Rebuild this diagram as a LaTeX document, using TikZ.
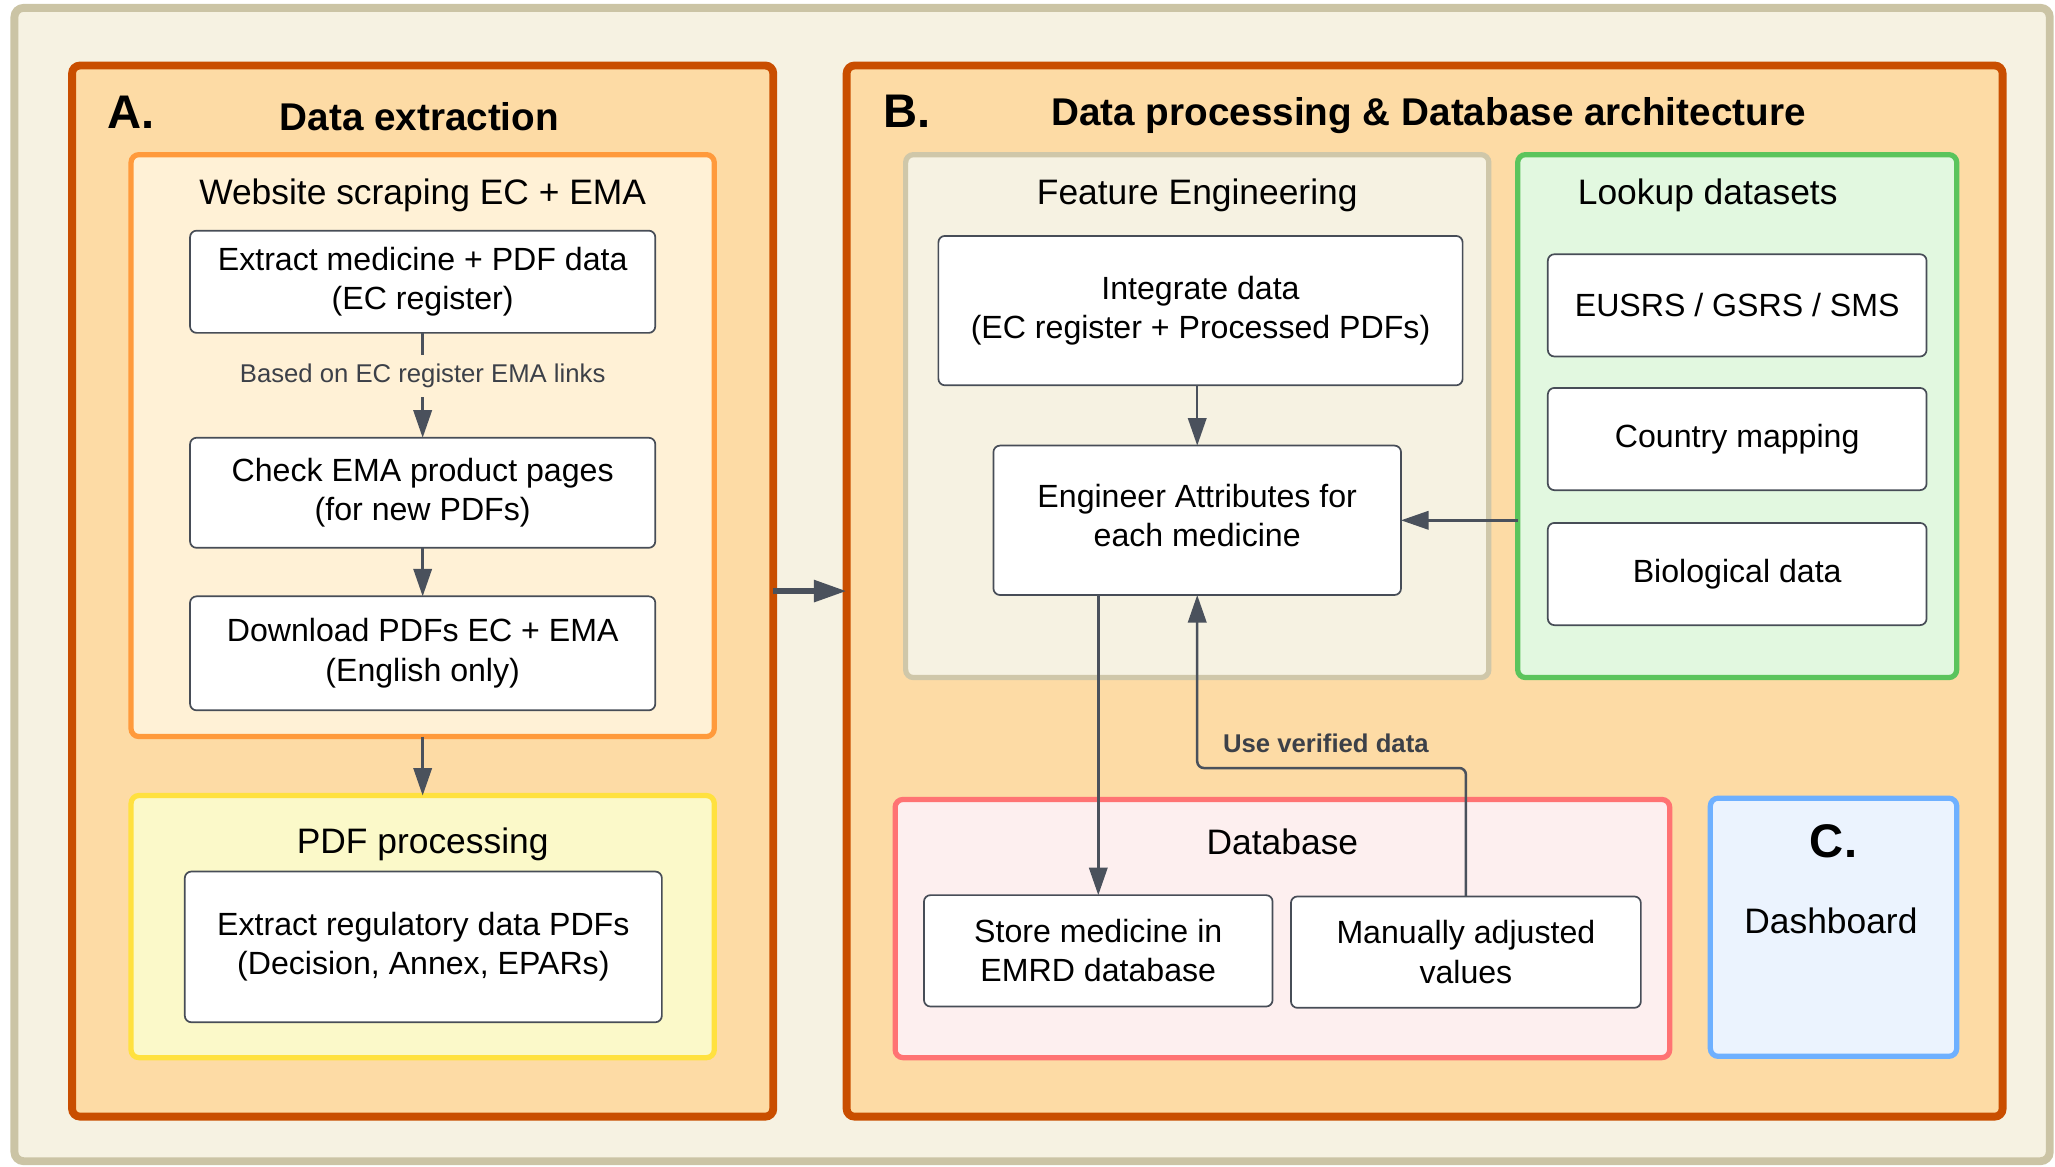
\documentclass[tikz,border=0pt]{standalone}
\usepackage{fontspec}
\setmainfont{Liberation Sans}
\usetikzlibrary{arrows.meta}
\definecolor{outerline}{HTML}{CBC4A5}
\definecolor{outerfill}{HTML}{F6F2E2}
\definecolor{partline}{HTML}{C94E00}
\definecolor{partfill}{HTML}{FDDBA5}
\definecolor{webline}{HTML}{FF9A3C}
\definecolor{webfill}{HTML}{FFF1D6}
\definecolor{pdfline}{HTML}{FFE13F}
\definecolor{pdffill}{HTML}{FBF9C9}
\definecolor{featline}{HTML}{CFC7A9}
\definecolor{featfill}{HTML}{F6F2E2}
\definecolor{lookline}{HTML}{5BC45C}
\definecolor{lookfill}{HTML}{E2F8E0}
\definecolor{dbline}{HTML}{FF7373}
\definecolor{dbfill}{HTML}{FDEFEF}
\definecolor{dashline}{HTML}{6EB0FF}
\definecolor{dashfill}{HTML}{EBF3FE}
\definecolor{boxline}{HTML}{474D57}
\definecolor{arrline}{HTML}{4A515C}
\definecolor{lbltext}{HTML}{3C4048}
\tikzset{
  box/.style={draw=boxline, fill=white, line width=1.3pt, rounded corners=5pt,
    align=center, font=\fontsize{24.5}{30}\selectfont, inner sep=0pt, outer sep=0pt},
  grp/.style={line width=4pt, rounded corners=6pt, inner sep=0pt, outer sep=0pt},
  part/.style={grp, draw=partline, fill=partfill, line width=6pt},
  ttl/.style={font=\fontsize{27}{32}\selectfont, inner sep=0pt},
  head/.style={font=\bfseries\fontsize{29.5}{34}\selectfont, inner sep=0pt},
  letter/.style={font=\bfseries\fontsize{36}{40}\selectfont, inner sep=0pt},
  lbl/.style={font=\fontsize{19.6}{23}\selectfont, text=lbltext, inner sep=0pt},
  arr/.style={draw=arrline, line width=1.9pt, -{Triangle[length=21pt,width=14pt]}},
}
\begin{document}
\begin{tikzpicture}[x=1pt,y=-1pt]
\useasboundingbox (0,0) rectangle (1568,890);
\draw[outerline, fill=outerfill, line width=6pt, rounded corners=7pt] (11,6) rectangle (1564,886);

% A. data extraction
\node[part, minimum width=535pt, minimum height=802pt] (partA) at (322.5,451) {};
\node[letter] (letA) at (100,86) {A.};
\node[head] (headA) at (320,89) {Data extraction};

\node[grp, draw=webline, fill=webfill, minimum width=445pt, minimum height=444pt] (web) at (322.5,340) {};
\node[ttl] (webttl) at (322.5,149) {Website scraping EC + EMA};
\node[box, minimum width=355pt, minimum height=78pt] (ecreg) at (322.5,215) {Extract medicine + PDF data\\(EC register)};
\node[box, minimum width=355pt, minimum height=84pt] (emapages) at (322.5,376) {Check EMA product pages\\(for new PDFs)};
\node[box, minimum width=355pt, minimum height=87pt] (download) at (322.5,498.5) {Download PDFs EC + EMA\\(English only)};

\node[grp, draw=pdfline, fill=pdffill, minimum width=445pt, minimum height=200pt] (pdf) at (322.5,707) {};
\node[ttl] (pdfttl) at (322.5,644) {PDF processing};
\node[box, minimum width=364pt, minimum height=115pt] (regul) at (323,722.5) {Extract regulatory data PDFs\\(Decision, Annex, EPARs)};

% B. processing and database
\node[part, minimum width=882pt, minimum height=802pt] (partB) at (1087,451) {};
\node[letter] (letB) at (692,85) {B.};
\node[head] (headB) at (1090,88) {Data processing \& Database architecture};

\node[grp, draw=featline, fill=featfill, minimum width=445pt, minimum height=399pt] (feat) at (913.5,317.5) {};
\node[ttl] (featttl) at (913.5,149) {Feature Engineering};
\node[box, minimum width=400pt, minimum height=114pt] (integ) at (916,237) {Integrate data\\(EC register + Processed PDFs)};
\node[box, minimum width=311pt, minimum height=114pt] (engin) at (913.5,397) {Engineer Attributes for\\each medicine\\[-22pt]};

\node[grp, draw=lookline, fill=lookfill, minimum width=335pt, minimum height=399pt] (look) at (1325.5,317.5) {};
\node[ttl] (lookttl) at (1303,149) {Lookup datasets};
\node[box, minimum width=289pt, minimum height=78pt] (eusrs) at (1325.5,233) {EUSRS / GSRS / SMS};
\node[box, minimum width=289pt, minimum height=78pt] (country) at (1325.5,335) {Country mapping};
\node[box, minimum width=289pt, minimum height=78pt] (bio) at (1325.5,438) {Biological data};

\node[grp, draw=dbline, fill=dbfill, minimum width=591pt, minimum height=197pt] (db) at (978.5,708.5) {};
\node[ttl] (dbttl) at (978.5,642) {Database};
\node[box, minimum width=266pt, minimum height=85pt] (store) at (838,725.5) {Store medicine in\\EMRD database};
\node[box, minimum width=267pt, minimum height=85pt] (manual) at (1118.5,726.5) {Manually adjusted\\values};

% C. dashboard
\node[grp, draw=dashline, fill=dashfill, minimum width=188pt, minimum height=197pt] (dash) at (1399,707.5) {};
\node[letter] (letC) at (1399,642) {C.};
\node[ttl] (dashttl) at (1397,703) {Dashboard};

% connectors
\draw[arr] (ecreg) -- node[lbl, pos=0.41, fill=webfill, inner ysep=7pt, inner xsep=2pt] (linklbl) {Based on EC register EMA links} (emapages);
\draw[arr] (emapages) -- (download);
\draw[arr] (web) -- (pdf);
\draw[arr, line width=4.5pt, -{Triangle[length=25pt,width=16pt]}] (partA) -- (partB);
\draw[arr] (integ.south -| engin) -- (engin);
\draw[arr] (look.west |- engin.east) -- (engin.east);
\draw[arr] (store.north |- engin.south) -- (store.north);
\coordinate (turn) at (0,586);
\draw[arr, rounded corners=5pt] (manual.north) |- (engin.south |- turn) -- (engin.south);
\node[lbl, font=\bfseries\fontsize{19.6}{23}\selectfont, anchor=west] (verif) at (933,567) {Use verified data};
\end{tikzpicture}
\end{document}
